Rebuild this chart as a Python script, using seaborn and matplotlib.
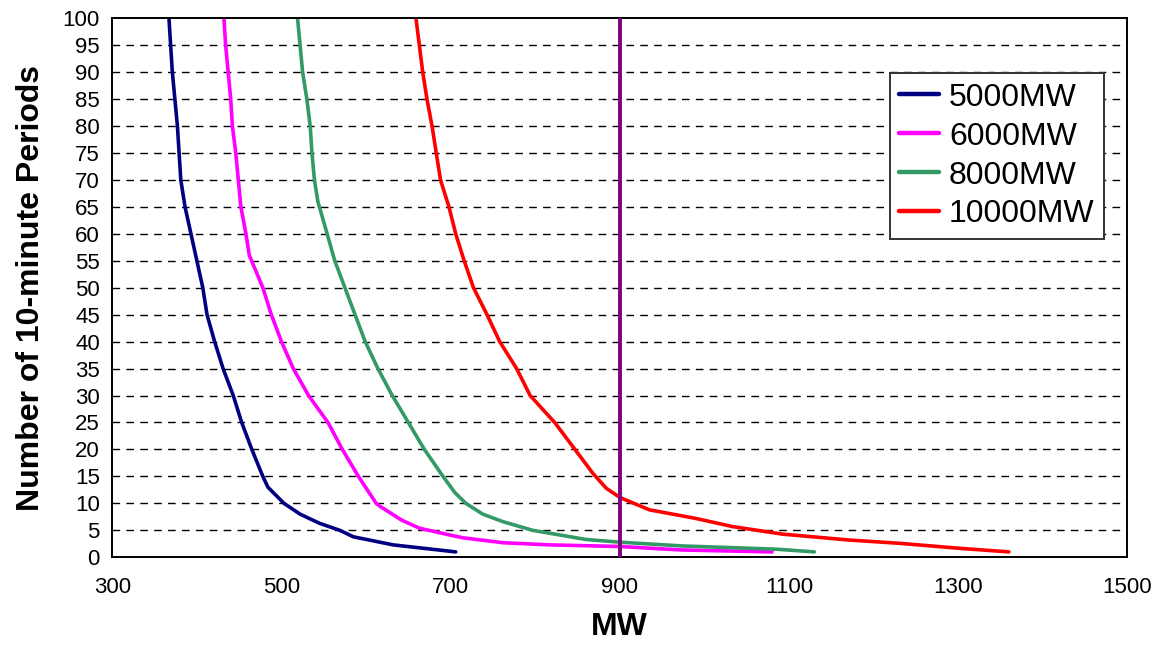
import pandas as pd
import matplotlib
matplotlib.use('Agg')
import matplotlib.pyplot as plt
import seaborn as sns

# values (MW vs number of 10-minute periods)
mw_5000 = [367, 369, 371, 374, 377, 379, 381, 386, 393, 400, 407, 412, 421, 431, 443, 453,
           465, 478, 484, 503, 522, 545, 569, 585, 632, 706]
per_5000 = [100, 95, 90, 85, 80, 75, 70, 65, 60, 55, 50, 45, 40, 35, 30, 25,
            20, 15, 13, 10, 8, 6.3, 5, 3.8, 2.3, 1]

mw_6000 = [432, 434, 437, 440, 442, 446, 449, 452, 458, 462, 478, 488, 500, 514, 532, 555,
           572, 591, 612, 617, 642, 663, 697, 715, 762, 817, 900, 974, 1080]
per_6000 = [100, 95, 90, 85, 80, 75, 70, 65, 60, 56, 50, 45, 40, 35, 30, 25,
            20, 15, 10, 9.4, 6.9, 5.4, 4.2, 3.6, 2.7, 2.3, 2.0, 1.35, 1]

mw_8000 = [519, 522, 525, 530, 534, 536, 539, 543, 554, 563, 575, 587, 599, 614, 631, 650,
           669, 691, 705, 718, 738, 762, 797, 860, 900, 974, 1085, 1130]
per_8000 = [100, 95, 90, 85, 80, 75, 70, 66, 60, 55, 50, 45, 40, 35, 30, 25,
            20, 15, 12, 10, 8, 6.6, 5, 3.3, 2.8, 2.1, 1.5, 1]

mw_10000 = [659, 663, 667, 672, 678, 683, 688, 698, 706, 716, 727, 743, 758, 778, 794, 823,
            847, 868, 884, 900, 935, 990, 1033, 1092, 1171, 1230, 1301, 1360]
per_10000 = [100, 95, 90, 85, 80, 75, 70, 65, 60, 55, 50, 45, 40, 35, 30, 25,
             20, 15.6, 12.8, 11.1, 8.8, 7.2, 5.7, 4.3, 3.2, 2.6, 1.67, 1]

series_names = ['5000MW', '6000MW', '8000MW', '10000MW']
series_colors = ['#000080', '#FF00FF', '#339966', '#FF0000']
limit_mw = 900

x_ticks = [300, 500, 700, 900, 1100, 1300, 1500]
y_ticks = list(range(0, 101, 5))

frames = []
for name, xs, ys in zip(series_names,
                        [mw_5000, mw_6000, mw_8000, mw_10000],
                        [per_5000, per_6000, per_8000, per_10000]):
    frames.append(pd.DataFrame({'MW': xs, 'periods': ys, 'series': name}))
df = pd.concat(frames, ignore_index=True)

sns.set_style('white')
plt.rcParams['font.family'] = ['Liberation Sans', 'DejaVu Sans']
plt.rcParams.update({'text.color': 'black', 'axes.labelcolor': 'black',
                     'xtick.color': 'black', 'ytick.color': 'black'})

fig = plt.figure(figsize=(11.61, 6.45), dpi=100)
ax = fig.add_axes([0.0967, 0.136, 0.8743, 0.836])

# dashed horizontal grid
for yv in y_ticks[1:-1]:
    ax.axhline(yv, color='black', lw=1.0, dashes=(5.5, 4.5), zorder=0)

sns.lineplot(data=df, x='MW', y='periods', hue='series', hue_order=series_names,
             palette=series_colors, estimator=None, sort=False, lw=2.6, ax=ax)

ax.axvline(limit_mw, color='#800080', lw=2.8, zorder=3)

ax.set_xlim(300, 1500)
ax.set_ylim(0, 100)
ax.set_xticks(x_ticks)
ax.set_yticks(y_ticks)
ax.tick_params(axis='both', direction='out', length=5, width=1.2, color='black',
               labelsize=16, pad=4)
ax.tick_params(axis='x', pad=9)
for sp in ax.spines.values():
    sp.set_color('black')
    sp.set_linewidth(1.4)

ax.set_xlabel('MW', fontsize=23, fontweight='bold', labelpad=10)
ax.set_ylabel('Number of 10-minute Periods', fontsize=23, fontweight='bold', labelpad=12)

leg = ax.legend(loc='upper left', bbox_to_anchor=(0.766, 0.898), fontsize=23,
                frameon=True, fancybox=False, framealpha=1, edgecolor='#333333',
                handlelength=1.25, handletextpad=0.3, borderpad=0.3,
                labelspacing=0.28, borderaxespad=0)
leg.get_frame().set_linewidth(1.4)
for line in leg.get_lines():
    line.set_linewidth(3.2)

fig.savefig('out.png', dpi=100)
